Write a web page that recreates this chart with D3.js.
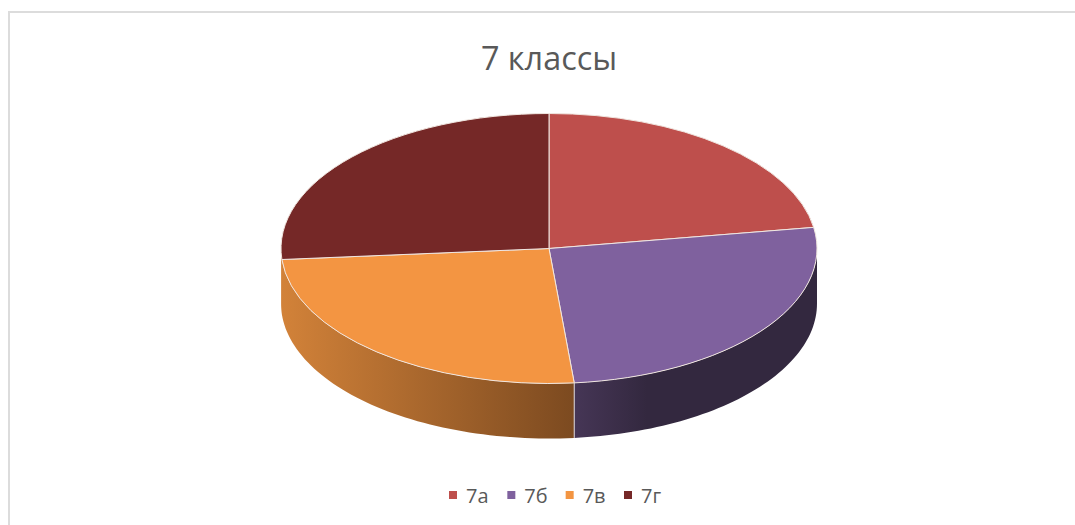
<!DOCTYPE html>
<html><head><meta charset="utf-8">
<script src="https://cdn.jsdelivr.net/npm/d3@7"></script>
<style>html,body{margin:0;padding:0;background:#fff}svg{display:block}text{font-family:"Open Sans",sans-serif}</style>
</head><body><div id="c"></div>
<script>
const categories = ["7а","7б","7в","7г"];
const values = [22.5,26.0,25.2,26.3];
const topColors = ["#BE4F4C","#7F619E","#F39542","#752827"];
const titleText = "7 классы";

const W=1075,H=525,cx=549,cy=248.5,rx=268,ry=135,depth=55;
const svg=d3.select("#c").append("svg").attr("width",W).attr("height",H);

svg.append("path").attr("d","M9,525V12H1075").attr("fill","none").attr("stroke","#dcdcdc").attr("stroke-width",2);

const defs=svg.append("defs");
const sideStops=[
 [["0%","#a23f3c"],["100%","#a23f3c"]],
 [["0%","#463656"],["30%","#33283F"],["100%","#33283F"]],
 [["0%","#D28239"],["100%","#7C4A20"]],
 [["0%","#D28239"],["100%","#D28239"]]
];
sideStops.forEach((s,i)=>{
  const g=defs.append("linearGradient").attr("id","side"+i);
  s.forEach(p=>g.append("stop").attr("offset",p[0]).attr("stop-color",p[1]));
});

const pie=d3.pie().sort(null)(values);
const px=a=>cx+rx*Math.sin(a), py=a=>cy-ry*Math.cos(a);

const line=d3.line();
pie.forEach((d,i)=>{
  const a0=Math.max(d.startAngle,Math.PI/2), a1=Math.min(d.endAngle,3*Math.PI/2);
  if(a1<=a0) return;
  const as=d3.range(0,61).map(k=>a0+(a1-a0)*k/60);
  const pts=as.map(a=>[px(a),py(a)]).concat(as.slice().reverse().map(a=>[px(a),py(a)+depth]));
  svg.append("path").attr("d",line(pts)+"Z").attr("fill",`url(#side${i})`).attr("stroke","none");
});
const seam=pie[1].endAngle;
svg.append("line").attr("x1",px(seam)).attr("x2",px(seam)).attr("y1",py(seam)).attr("y2",py(seam)+depth)
  .attr("stroke","#d9d4dc").attr("stroke-width",1);

const arc=d3.arc().innerRadius(0).outerRadius(rx);
svg.append("g").attr("transform",`translate(${cx},${cy}) scale(1,${ry/rx})`)
  .selectAll("path").data(pie).join("path")
  .attr("d",arc).attr("fill",(d,i)=>topColors[i])
  .attr("stroke","#f0e6e0").attr("stroke-width",1).attr("vector-effect","non-scaling-stroke");

svg.append("text").attr("x",549).attr("y",70).attr("text-anchor","middle")
  .attr("font-size",32.4).attr("fill","#595959").text(titleText);

const legendX=d3.scalePoint().domain(categories).range([449,624]);
const lg=svg.append("g").selectAll("g").data(categories).join("g")
  .attr("transform",d=>`translate(${legendX(d)},0)`);
lg.append("rect").attr("y",491).attr("width",8).attr("height",8).attr("fill",(d,i)=>topColors[i]);
lg.append("text").attr("x",17).attr("y",503).attr("font-size",20).attr("fill","#595959").text(d=>d);
</script></body></html>
